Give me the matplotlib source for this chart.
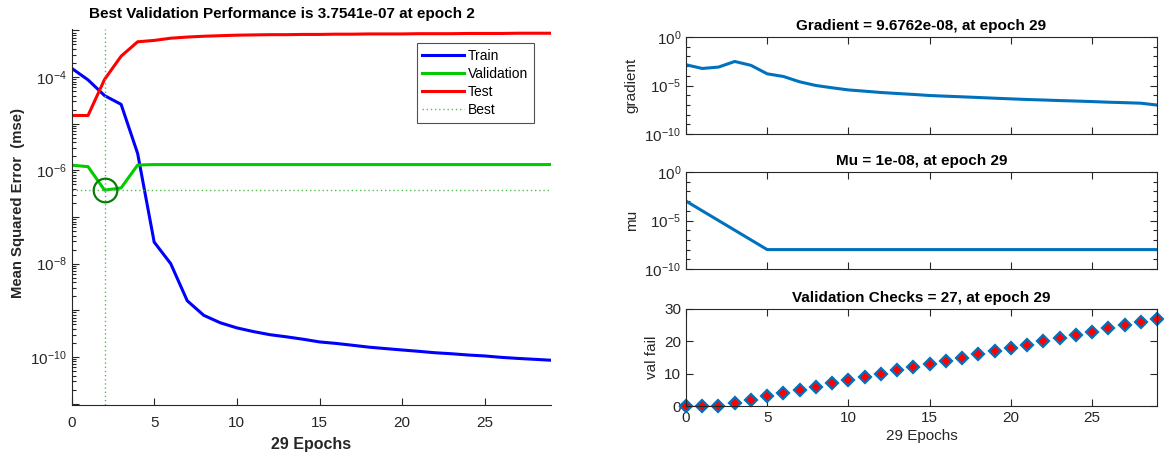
import matplotlib
matplotlib.use("Agg")
import matplotlib.pyplot as plt
import numpy as np
from matplotlib.ticker import LogLocator, FixedLocator, NullFormatter, FixedFormatter

plt.rcParams['font.family'] = ['Liberation Sans', 'DejaVu Sans']
plt.rcParams['mathtext.default'] = 'regular'

epochs = list(range(30))
train_mse = [1.55e-4, 8.7e-5, 4.0e-5, 2.6e-5, 2.3e-6, 2.9e-8, 1.0e-8, 1.6e-9, 7.8e-10, 5.4e-10,
             4.2e-10, 3.5e-10, 3.0e-10, 2.7e-10, 2.4e-10, 2.1e-10, 1.95e-10, 1.78e-10, 1.62e-10, 1.51e-10,
             1.41e-10, 1.32e-10, 1.23e-10, 1.17e-10, 1.10e-10, 1.05e-10, 9.8e-11, 9.3e-11, 8.9e-11, 8.5e-11]
val_mse = [1.29e-6, 1.20e-6, 3.7541e-7, 4.2e-7, 1.30e-6, 1.33e-6, 1.33e-6, 1.33e-6, 1.33e-6, 1.33e-6,
           1.33e-6, 1.33e-6, 1.33e-6, 1.33e-6, 1.33e-6, 1.33e-6, 1.33e-6, 1.33e-6, 1.33e-6, 1.33e-6,
           1.33e-6, 1.33e-6, 1.33e-6, 1.33e-6, 1.33e-6, 1.33e-6, 1.33e-6, 1.33e-6, 1.33e-6, 1.33e-6]
test_mse = [1.5e-5, 1.5e-5, 8.9e-5, 2.8e-4, 5.7e-4, 6.1e-4, 6.8e-4, 7.2e-4, 7.5e-4, 7.7e-4,
            7.9e-4, 8.0e-4, 8.1e-4, 8.1e-4, 8.2e-4, 8.2e-4, 8.3e-4, 8.3e-4, 8.4e-4, 8.4e-4,
            8.4e-4, 8.5e-4, 8.5e-4, 8.5e-4, 8.6e-4, 8.6e-4, 8.6e-4, 8.7e-4, 8.7e-4, 8.7e-4]
best_epoch = 2
best_perf = 3.7541e-7

gradient = [1.38e-3, 5.7e-4, 7.9e-4, 3.0e-3, 1.2e-3, 1.6e-4, 8.5e-5, 2.4e-5, 1.0e-5, 5.8e-6,
            3.5e-6, 2.6e-6, 1.9e-6, 1.5e-6, 1.2e-6, 9.3e-7, 7.9e-7, 6.8e-7, 5.8e-7, 4.9e-7,
            4.2e-7, 3.6e-7, 3.2e-7, 2.8e-7, 2.5e-7, 2.2e-7, 1.9e-7, 1.7e-7, 1.5e-7, 9.6762e-8]
mu = [1e-3, 1e-4, 1e-5, 1e-6, 1e-7, 1e-8, 1e-8, 1e-8, 1e-8, 1e-8,
      1e-8, 1e-8, 1e-8, 1e-8, 1e-8, 1e-8, 1e-8, 1e-8, 1e-8, 1e-8,
      1e-8, 1e-8, 1e-8, 1e-8, 1e-8, 1e-8, 1e-8, 1e-8, 1e-8, 1e-8]
val_fail = [0, 0, 0, 1, 2, 3, 4, 5, 6, 7, 8, 9, 10, 11, 12, 13, 14, 15, 16, 17,
            18, 19, 20, 21, 22, 23, 24, 25, 26, 27]

xticks = [0, 5, 10, 15, 20, 25]
TICKC = '#262626'
MBLUE = '#0072BD'

W, H = 1164, 455
fig = plt.figure(figsize=(W / 100, H / 100), dpi=100)

def px_axes(l, t, r, b):
    return fig.add_axes([l / W, 1 - b / H, (r - l) / W, (b - t) / H])

# ---- Left: performance ----
ax = px_axes(71.5, 29, 551, 405)
ax.semilogy(epochs, train_mse, color='#0000ff', lw=2.2, label='Train')
ax.semilogy(epochs, val_mse, color='#00cc00', lw=2.2, label='Validation')
ax.semilogy(epochs, test_mse, color='#ff0000', lw=2.2, label='Test')
ax.set_xlim(0, 29)
ax.set_ylim(10 ** -11.03, 10 ** -2.97)
ax.axvline(best_epoch, color='#55bb55', lw=1, ls=(0, (1, 2)), label='Best')
ax.axhline(best_perf, color='#55bb55', lw=1, ls=(0, (1, 2)))
ax.plot([best_epoch], [best_perf], 'o', ms=17, mfc='none', mec='#0a7a0a', mew=1.6)
ax.spines['top'].set_visible(False)
ax.spines['right'].set_visible(False)
ax.yaxis.set_major_locator(FixedLocator([10.0 ** k for k in range(-11, -2)]))
ax.yaxis.set_major_formatter(FixedFormatter(
    ['' if k % 2 else r'$10^{%d}$' % k for k in range(-11, -2)]))
ax.yaxis.set_minor_locator(LogLocator(base=10, subs=np.arange(2, 10), numticks=20))
ax.yaxis.set_minor_formatter(NullFormatter())
ax.set_xticks(xticks)
ax.tick_params(axis='both', direction='in', colors=TICKC, labelsize=11, length=5, width=0.8)
ax.tick_params(axis='y', which='minor', direction='in', length=3, width=0.8, colors=TICKC)
ax.tick_params(axis='x', pad=8)
for s in ['left', 'bottom']:
    ax.spines[s].set_color(TICKC)
ax.text(0.439, 1.0 + 8 / 376, 'Best Validation Performance is 3.7541e-07 at epoch 2',
        transform=ax.transAxes, ha='center', va='bottom', fontsize=11, fontweight='bold')
ax.set_xlabel('29 Epochs', fontsize=11.5, fontweight='bold', color=TICKC, labelpad=5)
ax.set_ylabel('Mean Squared Error  (mse)', fontsize=10.7, fontweight='bold', color=TICKC)
ax.yaxis.set_label_coords(-(71.5 - 25) / 479.5, (405 - 203) / 376)
leg = ax.legend(loc='upper right', bbox_to_anchor=((534 - 71.5) / 479.5, (405 - 43) / 376),
                fontsize=10, borderaxespad=0, frameon=True, fancybox=False,
                edgecolor='#262626', handlelength=3.0, borderpad=0.4,
                labelspacing=0.3, handletextpad=0.3)
leg.get_frame().set_linewidth(0.8)

# ---- Right panels ----
def style_right(a):
    a.set_xlim(0, 29)
    a.set_xticks(xticks)
    a.tick_params(axis='both', which='both', direction='in', top=True, right=True,
                  colors=TICKC, labelsize=11, width=0.8)
    a.tick_params(axis='both', which='major', length=5)
    a.tick_params(axis='both', which='minor', length=3)
    for s in a.spines.values():
        s.set_color(TICKC)
        s.set_linewidth(0.8)

def log_right(a):
    a.set_ylim(1e-10, 1e0)
    a.yaxis.set_major_locator(FixedLocator([1e-10, 1e-5, 1e0]))
    a.yaxis.set_major_formatter(FixedFormatter([r'$10^{-10}$', r'$10^{-5}$', r'$10^{0}$']))
    a.yaxis.set_minor_locator(FixedLocator([10.0 ** k for k in range(-9, 0) if k != -5]))
    a.yaxis.set_minor_formatter(NullFormatter())
    a.tick_params(axis='x', labelbottom=False)

ag = px_axes(686, 37, 1157, 134)
ag.semilogy(epochs, gradient, color=MBLUE, lw=2.2)
style_right(ag)
log_right(ag)
ag.set_title('Gradient = 9.6762e-08, at epoch 29', fontsize=11, fontweight='bold', pad=5)
ag.set_ylabel('gradient', fontsize=11, color=TICKC, labelpad=4)

am = px_axes(686, 172, 1157, 269)
am.semilogy(epochs, mu, color=MBLUE, lw=2.2)
style_right(am)
log_right(am)
am.set_title('Mu = 1e-08, at epoch 29', fontsize=11, fontweight='bold', pad=5)
am.set_ylabel('mu', fontsize=11, color=TICKC, labelpad=4)

av = px_axes(686, 309, 1157, 406)
av.plot(epochs, val_fail, 'D', ms=6.5, mfc='#ff0000', mec=MBLUE, mew=1.6, clip_on=False)
style_right(av)
av.set_ylim(0, 30)
av.set_yticks([0, 10, 20, 30])
av.set_title('Validation Checks = 27, at epoch 29', fontsize=11, fontweight='bold', pad=5)
av.set_ylabel('val fail', fontsize=11, color=TICKC, labelpad=4)
av.set_xlabel('29 Epochs', fontsize=11, color=TICKC, labelpad=3)

fig.savefig('out.png', dpi=100)
